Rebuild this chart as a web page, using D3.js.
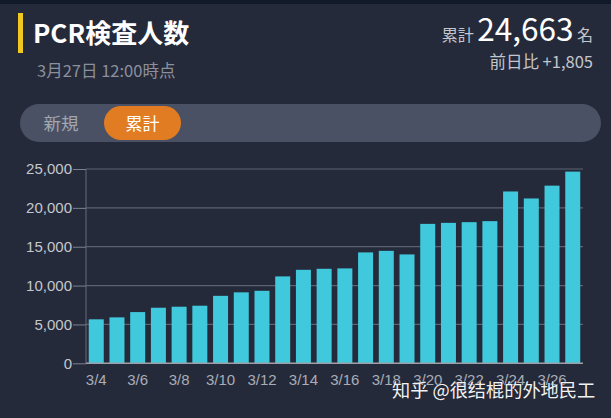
<!DOCTYPE html>
<html><head><meta charset="utf-8">
<script src="https://cdn.jsdelivr.net/npm/d3@7"></script>
<style>
html,body{margin:0;padding:0;background:#252a3a;}
svg{display:block;}
</style></head>
<body>
<script>
const categories = ["3/4","3/5","3/6","3/7","3/8","3/9","3/10","3/11","3/12","3/13","3/14","3/15","3/16","3/17","3/18","3/19","3/20","3/21","3/22","3/23","3/24","3/25","3/26","3/27"];
const cumulative = [5660,5910,6590,7150,7280,7410,8680,9130,9330,11180,12030,12160,12210,14270,14470,14010,17940,18070,18160,18290,22110,21210,22858,24663];
const yTicks = [0,5000,10000,15000,20000,25000];
const xTickLabels = ["3/4","3/6","3/8","3/10","3/12","3/14","3/16","3/18","3/20","3/22","3/24","3/26"];

const W = 611, H = 418;
const svg = d3.select("body").append("svg").attr("width", W).attr("height", H);
svg.append("rect").attr("width", W).attr("height", H).attr("fill", "#252a3a");
svg.append("rect").attr("width", W).attr("height", 4).attr("fill", "#111a28");

const cjk = "'Noto Sans CJK JP','Noto Sans',sans-serif";
// header
svg.append("rect").attr("x", 18).attr("y", 13).attr("width", 5).attr("height", 40).attr("fill", "#f2c81e");
svg.append("text").attr("x", 33).attr("y", 43).attr("fill", "#ffffff").attr("font-family", cjk)
  .attr("font-weight", 700).attr("font-size", 26).text("PCR検査人数");
svg.append("text").attr("x", 37).attr("y", 77).attr("fill", "#8b909c").attr("font-family", cjk)
  .attr("font-size", 16.5).text("3月27日 12:00時点");

const right = svg.append("text").attr("x", 593).attr("y", 41).attr("text-anchor", "end").attr("font-family", cjk);
right.append("tspan").attr("fill", "#c3c6cd").attr("font-size", 16).text("累計 ");
right.append("tspan").attr("fill", "#ffffff").attr("font-size", 31.5).text(d3.format(",")(cumulative[cumulative.length-1]));
right.append("tspan").attr("fill", "#c3c6cd").attr("font-size", 16).text(" 名");
svg.append("text").attr("x", 593).attr("y", 68).attr("text-anchor", "end").attr("font-family", cjk)
  .attr("fill", "#c3c6cd").attr("font-size", 16.5)
  .text("前日比 +" + d3.format(",")(cumulative[23] - cumulative[22]));

// toggle
svg.append("rect").attr("x", 20).attr("y", 104).attr("width", 581).attr("height", 38).attr("rx", 19)
  .attr("fill", "#4a5164");
svg.append("rect").attr("x", 104).attr("y", 106).attr("width", 77).attr("height", 34).attr("rx", 17)
  .attr("fill", "#e27c22");
svg.append("text").attr("x", 61).attr("y", 129.5).attr("text-anchor", "middle").attr("font-family", cjk)
  .attr("font-size", 17.5).attr("fill", "#a3a7b1").text("新規");
svg.append("text").attr("x", 142.5).attr("y", 129.5).attr("text-anchor", "middle").attr("font-family", cjk)
  .attr("font-size", 17).attr("fill", "#ffffff").text("累計");

// chart
const x0 = 86, x1 = 583, yb = 363.3, yt = 169;
const x = d3.scaleBand().domain(categories).range([x0, x1]).paddingInner(0.276).paddingOuter(0.133);
const y = d3.scaleLinear().domain([0, 25000]).range([yb, yt]);

const g = svg.append("g");
g.selectAll("line.grid").data(yTicks.filter(d => d > 0)).join("line")
  .attr("x1", x0).attr("x2", x1).attr("y1", d => y(d)).attr("y2", d => y(d))
  .attr("stroke", "#5d6272").attr("stroke-width", 1.2);
g.append("line").attr("x1", x0).attr("x2", x0).attr("y1", yt).attr("y2", yb)
  .attr("stroke", "#5d6272").attr("stroke-width", 1.2);

g.selectAll("rect.bar").data(cumulative).join("rect")
  .attr("x", (d, i) => x(categories[i])).attr("width", x.bandwidth())
  .attr("y", d => y(d)).attr("height", d => yb - y(d))
  .attr("fill", "#40c8dc");

g.append("line").attr("x1", x0).attr("x2", x1).attr("y1", yb).attr("y2", yb)
  .attr("stroke", "#9ca0aa").attr("stroke-width", 1.5);

const yAxis = d3.axisLeft(y).tickValues(yTicks).tickSize(13).tickPadding(1).tickFormat(d3.format(","));
const ya = svg.append("g").attr("transform", `translate(${x0},0)`).call(yAxis);
ya.select(".domain").remove();
ya.selectAll(".tick line").attr("stroke", "#7d818d");
ya.selectAll(".tick text").attr("fill", "#c4c7ce").attr("font-size", 15)
  .attr("font-family", "'Liberation Sans',Arial,sans-serif");

const xAxis = d3.axisBottom(x).tickValues(xTickLabels).tickSize(0).tickPadding(11);
const xa = svg.append("g").attr("transform", `translate(0,${yb})`).call(xAxis);
xa.select(".domain").remove();
xa.selectAll(".tick text").attr("fill", "#a9adb7").attr("font-size", 15)
  .attr("font-family", "'Liberation Sans',Arial,sans-serif");

// watermark
svg.append("text").attr("x", 392).attr("y", 397).attr("font-family", "'Noto Sans CJK SC',sans-serif")
  .attr("font-size", 18.2).attr("fill", "#f2f2f2").attr("stroke", "#20242f").attr("stroke-width", 0.6)
  .attr("paint-order", "stroke").text("知乎 @很结棍的外地民工");
</script>
</body></html>
